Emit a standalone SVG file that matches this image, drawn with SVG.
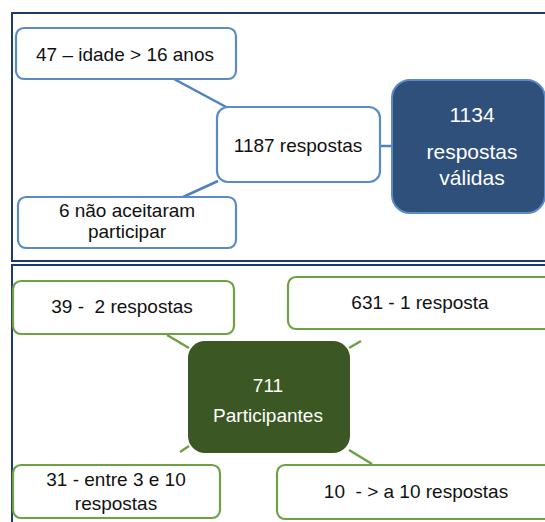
<svg xmlns="http://www.w3.org/2000/svg" width="545" height="522" viewBox="0 0 545 522">
<style>
  .frame { fill: none; stroke: #1F3A6E; stroke-width: 2; }
  .bbox { fill: #ffffff; stroke: #5B8BC6; stroke-width: 2.2; }
  .gbox { fill: #ffffff; stroke: #6EA144; stroke-width: 2.2; }
  .bline { stroke: #4F81BD; stroke-width: 2.5; fill: none; }
  .gline { stroke: #6EA144; stroke-width: 2.5; fill: none; }
  text { font-family: "Liberation Sans", Arial, sans-serif; font-size: 19px; fill: #111111; text-anchor: middle; white-space: pre; }
  .w { fill: #ffffff; }
</style>
<rect width="545" height="522" fill="#ffffff"/>
<g id="frames">
  <rect class="frame" x="12" y="13" width="545" height="248"/>
  <rect class="frame" x="12" y="265" width="545" height="270"/>
</g>
<g id="connectors">
  <line class="bline" x1="174" y1="79" x2="228" y2="108"/>
  <line class="bline" x1="380" y1="146" x2="392" y2="146"/>
  <line class="bline" x1="183" y1="197" x2="218" y2="181"/>
  <line class="gline" x1="167" y1="335" x2="189" y2="348"/>
  <line class="gline" x1="349" y1="348" x2="361" y2="341"/>
  <line class="gline" x1="180" y1="452" x2="189" y2="446"/>
  <line class="gline" x1="349" y1="450" x2="372" y2="464"/>
</g>
<g id="n-idade">
  <rect class="bbox" x="16" y="28" width="220" height="51" rx="8"/>
  <text x="125" y="61">47 – idade &gt; 16 anos</text>
</g>
<g id="n-1187">
  <rect class="bbox" x="217" y="107" width="163" height="75" rx="11"/>
  <text x="298" y="152">1187 respostas</text>
</g>
<g id="n-1134">
  <rect x="392" y="80" width="153" height="133" rx="18" fill="#2F507A" stroke="#5B8BC6" stroke-width="2"/>
  <text class="w" x="472" y="122" style="font-size:21px">1134</text>
  <text class="w" x="472" y="159" style="font-size:21px">respostas</text>
  <text class="w" x="472" y="185" style="font-size:21px">válidas</text>
</g>
<g id="n-nao">
  <rect class="bbox" x="18" y="197" width="218" height="51" rx="8"/>
  <text x="127" y="217">6 não aceitaram</text>
  <text x="127" y="238">participar</text>
</g>
<g id="n-39">
  <rect class="gbox" x="13" y="281" width="221" height="53" rx="8"/>
  <text x="122" y="313">39 -  2 respostas</text>
</g>
<g id="n-631">
  <rect class="gbox" x="288" y="277" width="270" height="52" rx="8"/>
  <text x="420" y="309">631 - 1 resposta</text>
</g>
<g id="n-711">
  <rect x="188" y="341" width="162" height="112" rx="17" fill="#3B5724"/>
  <text class="w" x="268" y="392">711</text>
  <text class="w" x="268" y="422">Participantes</text>
</g>
<g id="n-31">
  <rect class="gbox" x="13" y="465" width="207" height="53" rx="8"/>
  <text x="116" y="486">31 - entre 3 e 10</text>
  <text x="116" y="510">respostas</text>
</g>
<g id="n-10">
  <rect class="gbox" x="277" y="465" width="280" height="54" rx="8"/>
  <text x="416" y="498">10  - &gt; a 10 respostas</text>
</g>
</svg>
